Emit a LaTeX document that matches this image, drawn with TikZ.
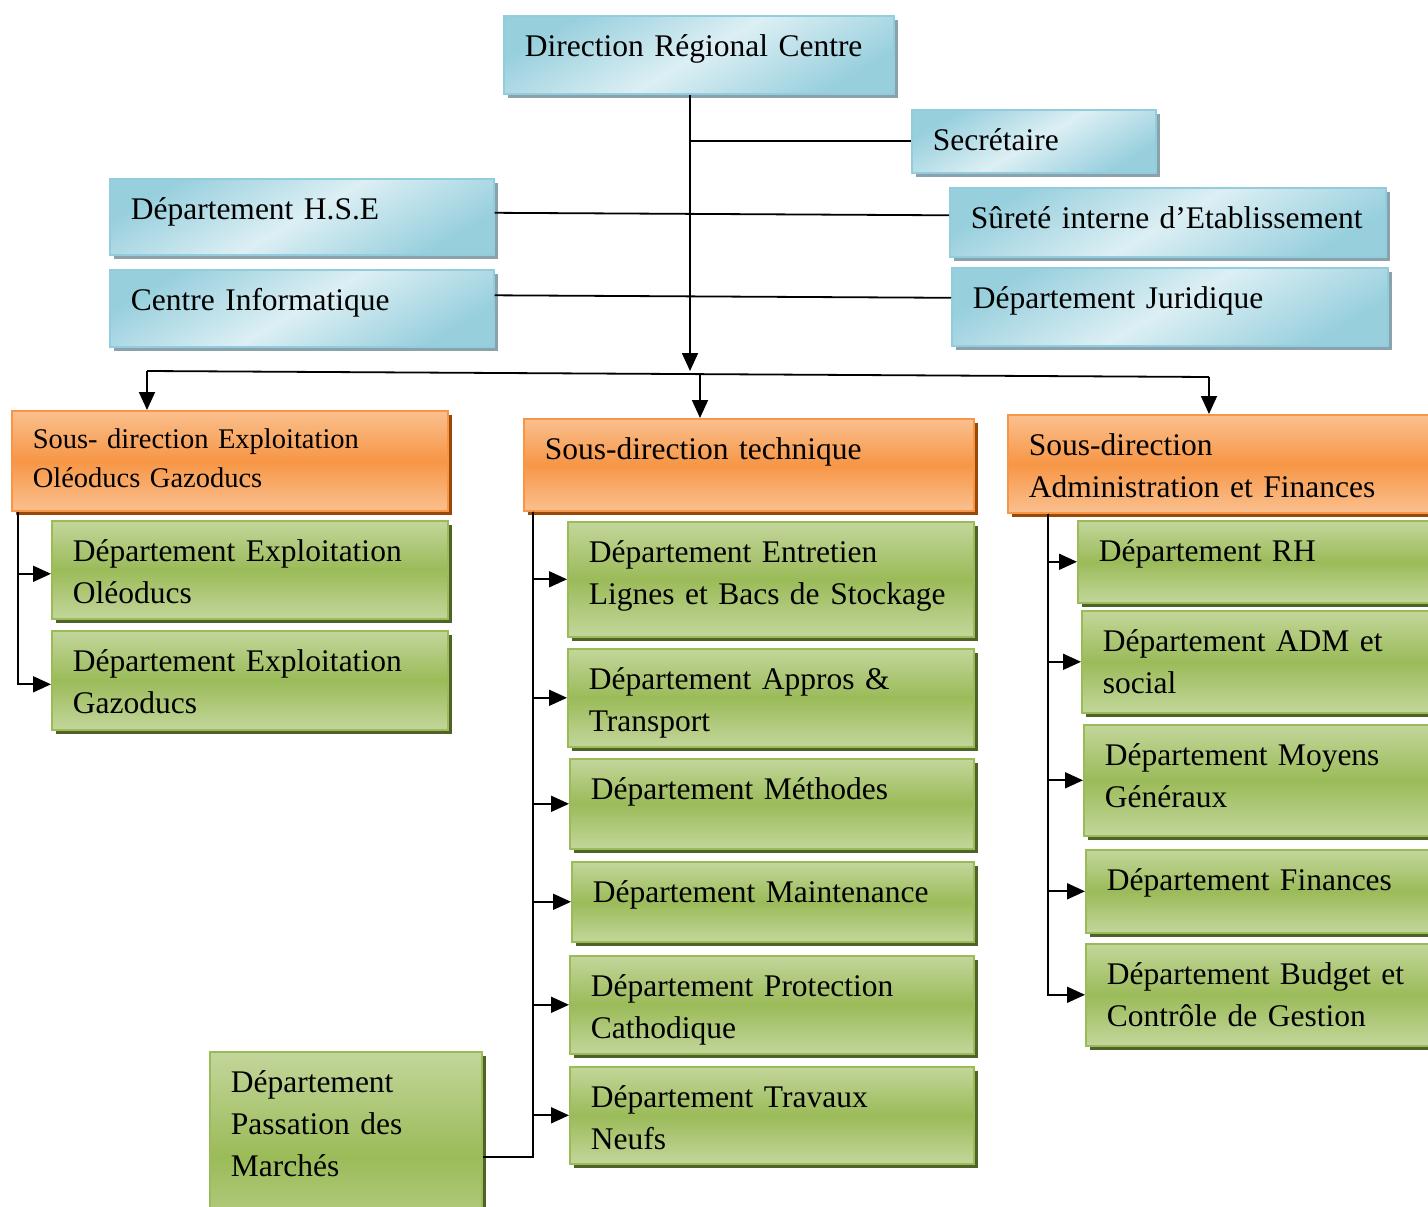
\documentclass[tikz,border=0pt]{standalone}
\usepackage{fontspec}
\setmainfont{Liberation Serif}
\usetikzlibrary{arrows.meta,shadows}

\definecolor{bluehi}{HTML}{DCEFF4}
\definecolor{bluelo}{HTML}{97CFDD}
\definecolor{blueline}{HTML}{93CDDD}
\definecolor{blueshade}{HTML}{8AA2AB}
\definecolor{orghi}{HTML}{FAC08F}
\definecolor{orglo}{HTML}{F79646}
\definecolor{orgshade}{HTML}{984807}
\definecolor{grnhi}{HTML}{C3D69B}
\definecolor{grnlo}{HTML}{9BBB59}
\definecolor{grnshade}{HTML}{4F6228}

\begin{document}
\begin{tikzpicture}[x=1pt,y=-1pt,
  box/.style={line width=1.6pt, anchor=north west, inner xsep=21pt, inner ysep=5pt,
    text height=36pt, align=left, font=\fontsize{31.5}{42}\selectfont},
  blubox/.style={box, draw=blueline, top color=bluelo, bottom color=bluelo,
    middle color=bluehi, shading angle=30,
    drop shadow={shadow xshift=4pt, shadow yshift=-4pt, fill=blueshade, opacity=1}},
  orgbox/.style={box, draw=orglo, top color=orghi, bottom color=orghi, middle color=orglo,
    drop shadow={shadow xshift=4pt, shadow yshift=-4pt, fill=orgshade, opacity=1}},
  grnbox/.style={box, draw=grnlo, top color=grnhi, bottom color=grnhi, middle color=grnlo,
    drop shadow={shadow xshift=4pt, shadow yshift=-4pt, fill=grnshade, opacity=1}},
  ln/.style={line width=1.8pt},
  arr/.style={ln, -{Triangle[length=18pt,width=16pt]}}]
\useasboundingbox (0,0) rectangle (1428,1207);

% Direction and attached services
\node[blubox, text width=348pt, text depth=32pt] (dir) at (503,15) {Direction Régional Centre};
\node[blubox, text width=202pt, text depth=17pt] (sec) at (911,109) {Secrétaire};
\node[blubox, text width=342pt, text depth=30pt] (hse) at (109,178) {Département H.S.E};
\node[blubox, text width=394pt, text depth=23pt] (sur) at (949,187) {\mbox{Sûreté interne d’Etablissement}};
\node[blubox, text width=342pt, text depth=31pt] (ci) at (109,269) {Centre Informatique};
\node[blubox, text width=394pt, text depth=32pt] (jur) at (951,267) {Département Juridique};

% Sous-directions
\node[orgbox, text width=394pt, text height=33pt, text depth=57pt, font=\fontsize{28.5}{39}\selectfont] (sdexp) at (11,410) {Sous- direction Exploitation\\Oléoducs Gazoducs};
\node[orgbox, text width=408pt, text depth=46pt] (sdtec) at (523,418) {Sous-direction technique};
\node[orgbox, text width=398pt, text depth=52pt] (sdadm) at (1007,414) {Sous-direction\\Administration et Finances};

% Departements exploitation
\node[grnbox, text width=354pt, text depth=52pt] (eoo) at (51,520) {Département Exploitation\\Oléoducs};
\node[grnbox, text width=354pt, text depth=53pt] (eog) at (51,630) {Département Exploitation\\Gazoducs};

% Departements technique
\node[grnbox, text width=364pt, text depth=69pt] (ent) at (567,521) {Département Entretien\\Lignes et Bacs de Stockage};
\node[grnbox, text width=364pt, text depth=52pt] (app) at (567,648) {Département Appros \&\\Transport};
\node[grnbox, text width=362pt, text depth=44pt] (met) at (569,758) {Département Méthodes};
\node[grnbox, text width=360pt, text depth=34pt] (mai) at (571,861) {Département Maintenance};
\node[grnbox, text width=362pt, text depth=52pt] (pro) at (569,955) {Département Protection\\Cathodique};
\node[grnbox, text width=362pt, text depth=51pt] (tra) at (569,1066) {Département Travaux\\Neufs};
\node[grnbox, text width=230pt, text depth=164pt] (pas) at (209,1051) {Département\\Passation des\\Marchés};

% Departements administration
\node[grnbox, text width=328pt, text depth=36pt] (rh) at (1077,520) {Département RH};
\node[grnbox, text width=324pt, text depth=56pt] (adm) at (1081,610) {Département ADM et\\social};
\node[grnbox, text width=322pt, text depth=65pt] (moy) at (1083,724) {Département Moyens\\Généraux};
\node[grnbox, text width=320pt, text depth=37pt] (fin) at (1085,849) {Département Finances};
\node[grnbox, text width=320pt, text depth=56pt] (bud) at (1085,943) {Département Budget et\\Contrôle de Gestion};

% Straight Lines
\coordinate (hub) at (690,371);
\draw[arr] (dir.south -| hub) -- (hub);
\draw[ln] (hub |- sec.west) -- (sec.west);
\draw[ln] ([yshift=4pt]hse.east) -- ([yshift=7pt]sur.west);
\draw[ln] ([yshift=13pt]ci.east) -- ([yshift=9pt]jur.west);

% bus to sous-directions
\coordinate (busl) at (147,371);
\coordinate (busm) at (700,374);
\coordinate (busr) at (1209,377);
\draw[ln] (busl) -- (busr);
\draw[arr] (busl) -- (busl |- sdexp.north);
\draw[arr] (busm) -- (busm |- sdtec.north);
\draw[arr] (busr) -- (busr |- sdadm.north);

% branches
\coordinate (tl) at ([xshift=7pt]sdexp.south west);
\draw[arr] (tl) |- ([yshift=-4pt]eoo.west);
\draw[arr] (tl) |- ([yshift=-4pt]eog.west);
\coordinate (tm) at ([xshift=10pt]sdtec.south west);
\foreach \d in {ent,app,met,mai,pro,tra}
  \draw[arr] (tm) |- (\d.west);
\draw[ln] (tm) |- (pas.east);
\coordinate (tr) at ([xshift=41pt]sdadm.south west);
\foreach \d in {rh,adm,moy,fin,bud}
  \draw[arr] (tr) |- (\d.west);
\end{tikzpicture}
\end{document}
